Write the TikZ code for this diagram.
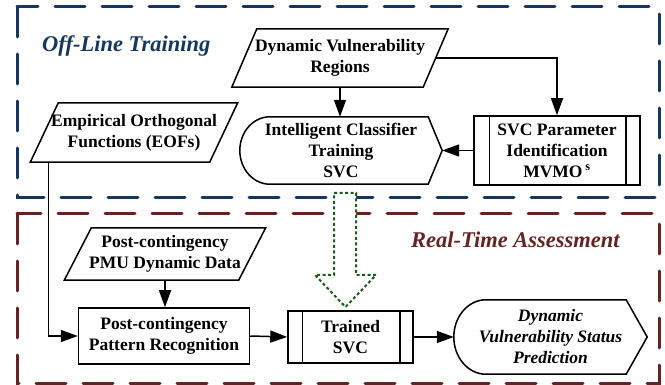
\documentclass[tikz,border=0pt]{standalone}
\usepackage{fontspec}
\setmainfont{Liberation Serif}
\usetikzlibrary{arrows.meta,calc}
\definecolor{navy}{HTML}{17365D}
\definecolor{maroon}{HTML}{632423}
\definecolor{dgreen}{HTML}{1E5B1E}
% parallelogram outline round a rectangle node: #1 node, #2 half slant
\newcommand\drawpara[2]{%
  \draw[outl] ($(#1.north west)+(#2,0)$) -- ($(#1.north east)+(#2,0)$)
    -- ($(#1.south east)+(-#2,0)$) -- ($(#1.south west)+(-#2,0)$) -- cycle;}
% display outline: #1 node, #2 rx of left curve, #3 depth of right point, #4 ry
\newcommand\drawdisp[4]{%
  \draw[outl] ($(#1.north west)+(#2,0)$) -- ($(#1.north east)+(-#3,0)$)
    -- (#1.east) -- ($(#1.south east)+(-#3,0)$) -- ($(#1.south west)+(#2,0)$)
    .. controls +({-0.552*#2},0) and +(0,{0.552*#4}) .. (#1.west)
    .. controls +(0,{-0.552*#4}) and +({-0.552*#2},0) .. ($(#1.north west)+(#2,0)$) -- cycle;}
\begin{document}
\begin{tikzpicture}[x=1pt,y=-1pt,
  box/.style={rectangle, inner sep=0pt, align=center,
    font=\fontsize{17.5}{21}\selectfont\bfseries},
  framed/.style={box, draw, line width=1.5pt},
  outl/.style={line width=1.5pt, line join=miter},
  arr/.style={line width=1.5pt, -{Triangle[length=17pt,width=12pt]}},
  title/.style={inner sep=0pt, anchor=base west,
    font=\fontsize{22.5}{27}\selectfont\bfseries\itshape},
  frame/.style={line width=3pt, dash pattern=on 30pt off 17pt, line cap=round}]
\useasboundingbox (0,0) rectangle (665,385);
\fill[white] (0,0) rectangle (665,385);

% frames
\draw[frame, navy] (17,7) rectangle (659,198);
\draw[frame, maroon] (17,214) rectangle (659,383);
\node[title, text=navy] (t1) at (42,52) {Off-Line Training};
\node[title, text=maroon] (t2) at (411,248) {Real-Time Assessment};

% nodes
\node[box, minimum width=191pt, minimum height=58pt] (dvr) at (340,58)
  {Dynamic Vulnerability\\Regions};
\drawpara{dvr}{12.5}

\node[box, minimum width=179pt, minimum height=59pt] (eof) at (134,132.5)
  {Empirical Orthogonal\\Functions (EOFs)};
\drawpara{eof}{14}

\node[box, minimum width=202pt, minimum height=67pt] (ict) at (341,150.5)
  {Intelligent Classifier\\Training\\SVC};
\drawdisp{ict}{30}{14}{33.5}

\node[framed, minimum width=166pt, minimum height=69pt] (svcp) at (557,150.5)
  {SVC Parameter\\Identification\\MVMO\,\textsuperscript{s}};
\draw[outl] ([xshift=16pt]svcp.north west) -- ([xshift=16pt]svcp.south west);
\draw[outl] ([xshift=-15pt]svcp.north east) -- ([xshift=-15pt]svcp.south east);

\node[box, minimum width=174pt, minimum height=52pt] (pmu) at (165,254)
  {Post-contingency\\PMU Dynamic Data};
\drawpara{pmu}{13.5}

\node[framed, minimum width=171pt, minimum height=56pt] (pat) at (164,336)
  {Post-contingency\\Pattern Recognition};

\node[framed, minimum width=125pt, minimum height=52pt] (tsvc) at (350.5,337)
  {Trained\\SVC};
\draw[outl] ([xshift=15pt]tsvc.north west) -- ([xshift=15pt]tsvc.south west);
\draw[outl] ([xshift=-14pt]tsvc.north east) -- ([xshift=-14pt]tsvc.south east);

\node[box, font=\fontsize{17.5}{21}\selectfont\bfseries\itshape,
  minimum width=193pt, minimum height=74pt] (pred) at (550.5,337)
  {Dynamic\\Vulnerability Status\\Prediction};
\drawdisp{pred}{32}{21}{37}

% hollow dotted arrow from training to trained SVC
\draw[dgreen, fill=white, line width=2pt, dash pattern=on 3pt off 2.5pt, line join=miter]
  (334,193) -- (356,193) -- (356,275) -- (376,275) -- (345.5,307)
  -- (315,275) -- (334,275) -- cycle;

% connectors
\draw[arr] (dvr.south) -- (dvr.south |- ict.north);
\draw[arr] (dvr.east) -| (svcp.north);
\draw[arr] (svcp.west) -- (ict.east);
\draw[arr] ([xshift=4pt]eof.south west) |- (pat.west);
\draw[arr] (pmu.south) -- (pmu.south |- pat.north);
\draw[arr] (pat.east) -- (tsvc.west);
\draw[arr] (tsvc.east) -- (pred.west);
\end{tikzpicture}
\end{document}
